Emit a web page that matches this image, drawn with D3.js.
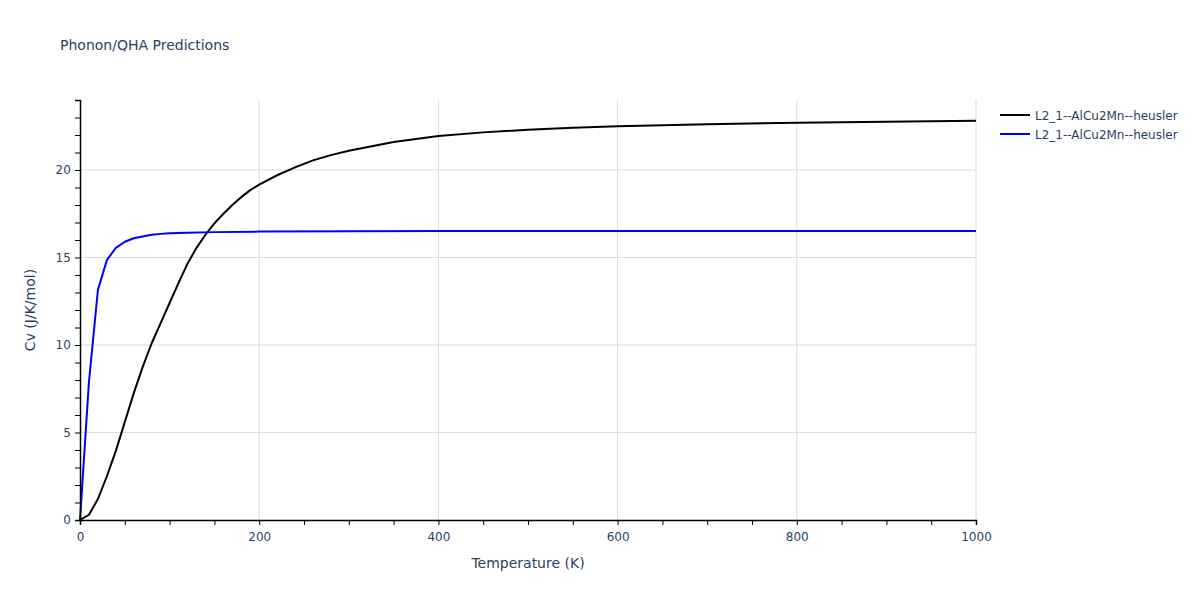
<!DOCTYPE html>
<html>
<head>
<meta charset="utf-8">
<script src="https://cdn.jsdelivr.net/npm/d3@7"></script>
<style>
  body { margin: 0; background: #fff; }
  svg { font-family: "DejaVu Sans", verdana, arial, sans-serif; }
</style>
</head>
<body>
<svg id="chart" width="1200" height="600"></svg>
<script>
const blackT  = [0,10,20,30,40,50,60,70,80,90,100,110,120,130,140,150,160,170,180,190,200,220,240,260,280,300,350,400,450,500,550,600,700,800,900,1000];
const blackCv = [0,0.3,1.2,2.5,3.95,5.6,7.25,8.75,10.1,11.25,12.4,13.55,14.65,15.55,16.3,16.95,17.5,18.0,18.45,18.85,19.16,19.7,20.15,20.55,20.85,21.1,21.6,21.94,22.15,22.3,22.42,22.5,22.62,22.7,22.76,22.82];
const blueT  = [0,10,20,30,40,50,60,70,80,90,100,120,150,200,300,400,500,600,700,800,900,1000];
const blueCv = [0,7.9,13.15,14.85,15.55,15.9,16.1,16.2,16.3,16.35,16.38,16.42,16.45,16.48,16.5,16.52,16.52,16.52,16.52,16.52,16.52,16.52];
const seriesNames = ["L2_1--AlCu2Mn--heusler","L2_1--AlCu2Mn--heusler"];
const seriesColors = ["#000000","#0000ff"];
const xTicks = [0,200,400,600,800,1000];
const yTicks = [0,5,10,15,20];

const svg = d3.select("#chart");
const m = {l:80, r:224, t:100, b:80};
const W = 1200, H = 600;
const x = d3.scaleLinear().domain([0,1000]).range([m.l, W-m.r]);
const y = d3.scaleLinear().domain([0,24]).range([H-m.b, m.t]);
const textColor = "#2a3f5f";
const font = '"DejaVu Sans", verdana, arial, sans-serif';

// grid
svg.append("g").selectAll("line.gx").data(xTicks.slice(1)).join("line")
  .attr("x1", d=>x(d)).attr("x2", d=>x(d)).attr("y1", y(0)).attr("y2", y(24))
  .attr("stroke", "#dcdcdc").attr("stroke-width", 1);
svg.append("g").selectAll("line.gy").data(yTicks.slice(1)).join("line")
  .attr("x1", x(0)).attr("x2", x(1000)).attr("y1", d=>y(d)).attr("y2", d=>y(d))
  .attr("stroke", "#dcdcdc").attr("stroke-width", 1);

// lines
const line = d3.line().x(d=>x(d[0])).y(d=>y(d[1]));
const data = [d3.zip(blackT, blackCv), d3.zip(blueT, blueCv)];
data.forEach((d,i)=>{
  svg.append("path").datum(d).attr("d", line).attr("fill","none")
    .attr("stroke", seriesColors[i]).attr("stroke-width", 2).attr("stroke-linejoin","round");
});

// axes
const xAxis = d3.axisBottom(x).tickValues(d3.range(0,1001,50)).tickSize(5)
  .tickFormat(d => xTicks.includes(d) ? d : "");
const gx = svg.append("g").attr("transform", `translate(0,${y(0)})`).call(xAxis);
gx.select(".domain").attr("stroke","#000").attr("stroke-width",1.5);
gx.selectAll(".tick line").attr("stroke","#000");
gx.selectAll(".tick text").attr("fill", textColor).attr("font-size", 12).attr("dy", "1.1em")
  .attr("font-family", font);

const yAxis = d3.axisLeft(y).tickValues(d3.range(0,25,1)).tickSize(5)
  .tickFormat(d => yTicks.includes(d) ? d : "");
const gy = svg.append("g").attr("transform", `translate(${x(0)},0)`).call(yAxis);
gy.select(".domain").attr("stroke","#000").attr("stroke-width",1.5);
gy.selectAll(".tick line").attr("stroke","#000");
gy.selectAll(".tick text").attr("fill", textColor).attr("font-size", 12).attr("dx","-0.1em")
  .attr("font-family", font);

// titles
svg.append("text").attr("x", 60).attr("y", 50).text("Phonon/QHA Predictions")
  .attr("fill", textColor).attr("font-size", 14);
svg.append("text").attr("x", (x(0)+x(1000))/2).attr("y", 568).attr("text-anchor","middle")
  .text("Temperature (K)").attr("fill", textColor).attr("font-size", 14);
svg.append("text").attr("transform", `translate(35,${(y(0)+y(24))/2}) rotate(-90)`)
  .attr("text-anchor","middle").text("Cv (J/K/mol)").attr("fill", textColor).attr("font-size", 14);

// legend
seriesNames.forEach((n,i)=>{
  const ly = 115 + i*19;
  svg.append("line").attr("x1", 1000).attr("x2", 1030).attr("y1", ly).attr("y2", ly)
    .attr("stroke", seriesColors[i]).attr("stroke-width", 2);
  svg.append("text").attr("x", 1035).attr("y", ly + 4.5).text(n)
    .attr("fill", textColor).attr("font-size", 12);
});
</script>
</body>
</html>
